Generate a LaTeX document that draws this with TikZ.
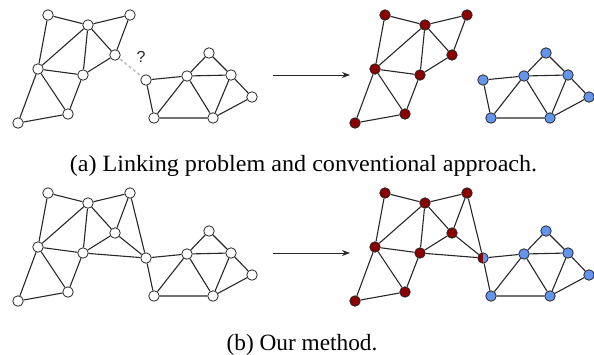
\documentclass[tikz,border=0pt]{standalone}
\usepackage{fontspec}
\setmainfont{Liberation Serif}
\newfontfamily\qfont{Liberation Sans}
\usetikzlibrary{arrows.meta}
\definecolor{nred}{RGB}{139,0,0}
\definecolor{nblue}{RGB}{100,149,237}
\definecolor{edgec}{RGB}{40,40,40}
\tikzset{
  vtx/.style={circle, draw=edgec, line width=0.8pt, minimum size=10.5pt, inner sep=0pt},
  wv/.style={vtx, fill=white},
  rv/.style={vtx, fill=nred},
  bv/.style={vtx, fill=nblue},
  hv/.style={vtx, fill=nblue, path picture={\fill[nred] (path picture bounding box.south west) rectangle (path picture bounding box.north);}},
  edg/.style={draw=edgec, line width=1.1pt},
  capt/.style={font=\fontsize{23.3}{27}\selectfont, anchor=base, inner sep=0pt},
  arr/.style={draw=edgec, line width=1pt, -{Stealth[length=8pt,width=6pt]}}
}
\newcommand\graphA[2]{%
  \node[#2] (#1A) at (48,15) {};
  \node[#2] (#1B) at (88,25) {};
  \node[#2] (#1C) at (130,15) {};
  \node[#2] (#1D) at (115,55) {};
  \node[#2] (#1E) at (38,69) {};
  \node[#2] (#1F) at (83,75) {};
  \node[#2] (#1G) at (68,114) {};
  \node[#2] (#1H) at (18,123) {};
  \path[edg] (#1A)--(#1B) (#1B)--(#1C) (#1A)--(#1E) (#1B)--(#1E) (#1B)--(#1F)
    (#1B)--(#1D) (#1C)--(#1D) (#1D)--(#1F) (#1E)--(#1F) (#1E)--(#1G)
    (#1F)--(#1G) (#1E)--(#1H) (#1H)--(#1G);
}
\newcommand\graphB[3]{%
  \node[#3] (#1I) at (146,80) {};
  \node[#2] (#1J) at (187,76) {};
  \node[#2] (#1K) at (209,53) {};
  \node[#2] (#1L) at (231,75) {};
  \node[#2] (#1M) at (252,97) {};
  \node[#2] (#1N) at (154,118) {};
  \node[#2] (#1O) at (213,118) {};
  \path[edg] (#1I)--(#1J) (#1I)--(#1N) (#1J)--(#1N) (#1J)--(#1K) (#1K)--(#1L)
    (#1J)--(#1L) (#1J)--(#1O) (#1L)--(#1O) (#1L)--(#1M) (#1M)--(#1O) (#1N)--(#1O);
}
\begin{document}
\begin{tikzpicture}[x=1pt,y=-1pt]
\useasboundingbox (0,0) rectangle (594,354);
% (a) left
\graphA{a}{wv}
\graphB{a}{wv}{wv}
\draw[draw=black!25, line width=1.6pt, dash pattern=on 3pt off 2.5pt, shorten <=1pt, shorten >=1pt] (aD) -- (aI);
\node[font=\qfont\fontsize{16}{18}\selectfont, text=edgec] (q) at (141,57) {?};
% (a) right
\begin{scope}[shift={(337,0)}]
\graphA{ar}{rv}
\graphB{ar}{bv}{bv}
\end{scope}
\coordinate (a1) at (273,75);
\coordinate (a2) at (350,75);
\draw[arr] (a1) -- (a2);
\node[capt] (ca) at (303.5,171) {\scalebox{1.035}[1]{(a) Linking problem and conventional approach.}};
% (b) left
\begin{scope}[shift={(0,178)}]
\graphA{b}{wv}
\graphB{b}{wv}{wv}
\path[edg] (bC)--(bI) (bD)--(bI) (bF)--(bI);
\end{scope}
% (b) right
\begin{scope}[shift={(337,178)}]
\graphA{br}{rv}
\graphB{br}{bv}{hv}
\path[edg] (brC)--(brI) (brD)--(brI) (brF)--(brI);
\end{scope}
\coordinate (b1) at (273,253);
\coordinate (b2) at (350,253);
\draw[arr] (b1) -- (b2);
\node[capt] (cb) at (302,350) {(b) Our method.};
\end{tikzpicture}
\end{document}
